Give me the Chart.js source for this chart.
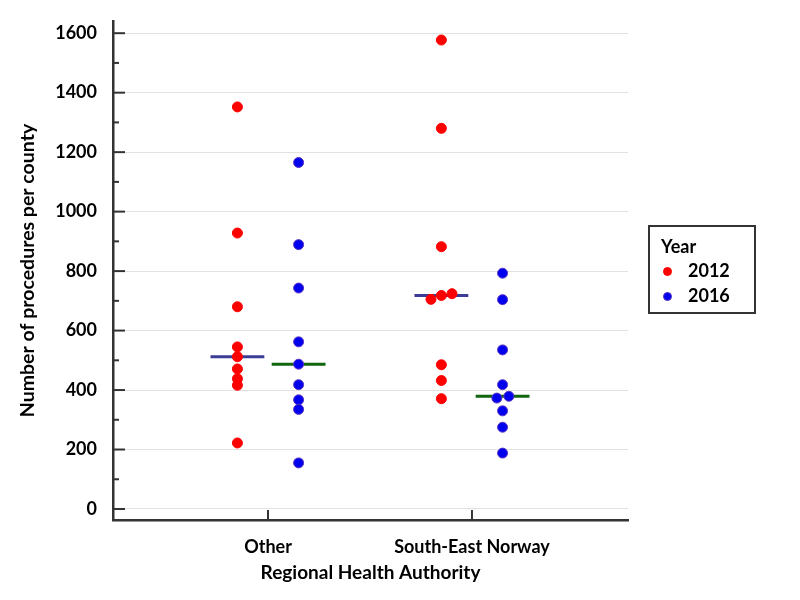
<!DOCTYPE html>
<html>
<head>
<meta charset="utf-8">
<script src="https://cdn.jsdelivr.net/npm/chart.js@4.4.1/dist/chart.umd.min.js"></script>
<style>
  html, body { margin: 0; padding: 0; background: #fff; }
  #wrap { position: relative; width: 800px; height: 600px; }
  #legend {
    position: absolute; left: 648px; top: 225px; width: 108px; height: 89px;
    box-sizing: border-box; border: 2px solid #333; padding-top: 7px;
    font-family: Lato, sans-serif; font-weight: 700; font-size: 18px; color: #000;
  }
  #legend .title { padding-left: 11px; line-height: 24px; }
  #legend .row { display: flex; align-items: center; height: 25px; line-height: 25px; }
  #legend .dot {
    display: inline-block; width: 9px; height: 9px; border-radius: 50%;
    margin-left: 13px; margin-right: 16px; position: relative; top: 1px;
    box-sizing: border-box;
  }
</style>
</head>
<body>
<div id="wrap">
  <canvas id="chart" width="800" height="600"></canvas>
  <div id="legend"></div>
</div>
<script>
// ──────────────────────────────────────────────────────────────
// Data
// ──────────────────────────────────────────────────────────────
const categories = ["Other", "South-East Norway"];
const years = ["2012", "2016"];

const other2012 = [1352, 928, 680, 545, 512, 471, 438, 416, 222];
const other2016 = [1165, 889, 743, 562, 487, 418, 367, 335, 155];
const seNorway2012 = [1577, 1280, 882, 724, 718, 705, 485, 432, 371];
const seNorway2016 = [793, 704, 535, 418, 379, 373, 330, 275, 188];

// sideways spread of overlapping dots, in category units
const other2012Jitter = [0, 0, 0, 0, 0, 0, 0, 0, 0];
const other2016Jitter = [0, 0, 0, 0, 0, 0, 0, 0, 0];
const seNorway2012Jitter = [0, 0, 0, 0.052, 0, -0.051, 0, 0, 0];
const seNorway2016Jitter = [0, 0, 0, 0, 0.031, -0.028, 0, 0, 0];

const yTickLabels = [0, 200, 400, 600, 800, 1000, 1200, 1400, 1600];
const yMinorStep = 100;

// ──────────────────────────────────────────────────────────────
// Styling
// ──────────────────────────────────────────────────────────────
const FONT = { family: "Lato, sans-serif", weight: "bold", size: 18 };
const X_TITLE_FONT = { family: "Lato, sans-serif", weight: "bold", size: 19 };
const Y_TITLE_FONT = { family: "Lato, sans-serif", weight: "bold", size: 19.5 };
const AXIS_COLOR = "#333333";
const GRID_COLOR = "#e2e2e2";
const POINT_COLORS = { "2012": "#ff0000", "2016": "#0000ee" };
const POINT_BORDERS = { "2012": "#ff0000", "2016": "#5b32c2" };
const MEDIAN_COLORS = { "2012": "#3c3c94", "2016": "#0f660f" };
const GROUP_OFFSET = { "2012": -0.15, "2016": 0.15 };
const MEDIAN_HALF = 0.132;

const seriesByYear = {
  "2012": [other2012, seNorway2012],
  "2016": [other2016, seNorway2016],
};
const jitterByYear = {
  "2012": [other2012Jitter, seNorway2012Jitter],
  "2016": [other2016Jitter, seNorway2016Jitter],
};

function median(arr) {
  const s = [...arr].sort((a, b) => a - b);
  const m = Math.floor(s.length / 2);
  return s.length % 2 ? s[m] : (s[m - 1] + s[m]) / 2;
}

function pointDataset(year) {
  const data = [];
  seriesByYear[year].forEach((vals, ci) => {
    vals.forEach((v, k) => {
      data.push({ x: ci + 1 + GROUP_OFFSET[year] + jitterByYear[year][ci][k], y: v });
    });
  });
  return {
    label: year,
    data,
    backgroundColor: POINT_COLORS[year],
    borderColor: POINT_BORDERS[year],
    borderWidth: 1,
    pointRadius: 5,
    pointHoverRadius: 5,
    order: 1,
  };
}

function medianDataset(year) {
  const data = [];
  seriesByYear[year].forEach((vals, ci) => {
    const c = ci + 1 + GROUP_OFFSET[year];
    const m = median(vals);
    if (ci > 0) data.push({ x: c - 0.5, y: null });
    data.push({ x: c - MEDIAN_HALF, y: m }, { x: c + MEDIAN_HALF, y: m });
  });
  return {
    type: "line",
    label: "median " + year,
    isMedian: true,
    data,
    borderColor: MEDIAN_COLORS[year],
    borderWidth: 3,
    pointRadius: 0,
    spanGaps: false,
    order: 2,
  };
}

// ──────────────────────────────────────────────────────────────
// Plugins: inward tick marks and an HTML legend box
// ──────────────────────────────────────────────────────────────
const innerTicks = {
  id: "innerTicks",
  afterDraw(chart) {
    const { ctx, chartArea, scales } = chart;
    ctx.save();
    ctx.strokeStyle = AXIS_COLOR;
    ctx.lineWidth = 2;
    for (let v = 0; v <= 1600; v += yMinorStep) {
      const y = scales.y.getPixelForValue(v);
      const len = v % 200 === 0 ? 12 : 6;
      ctx.beginPath();
      ctx.moveTo(chartArea.left, y);
      ctx.lineTo(chartArea.left + len, y);
      ctx.stroke();
    }
    categories.forEach((_, i) => {
      const x = scales.x.getPixelForValue(i + 1);
      ctx.beginPath();
      ctx.moveTo(x, chartArea.bottom);
      ctx.lineTo(x, chartArea.bottom - 10);
      ctx.stroke();
    });
    ctx.restore();
  },
};

const htmlLegend = {
  id: "htmlLegend",
  afterUpdate(chart) {
    const box = document.getElementById("legend");
    box.innerHTML = "";
    const title = document.createElement("div");
    title.className = "title";
    title.textContent = "Year";
    box.appendChild(title);
    const items = chart.options.plugins.legend.labels.generateLabels(chart)
      .filter((it) => !chart.data.datasets[it.datasetIndex].isMedian);
    for (const it of items) {
      const row = document.createElement("div");
      row.className = "row";
      const dot = document.createElement("span");
      dot.className = "dot";
      dot.style.background = it.fillStyle;
      dot.style.border = "1px solid " + it.strokeStyle;
      const txt = document.createElement("span");
      txt.textContent = it.text;
      row.appendChild(dot);
      row.appendChild(txt);
      box.appendChild(row);
    }
  },
};

// ──────────────────────────────────────────────────────────────
// Chart
// ──────────────────────────────────────────────────────────────
function render() {
  new Chart(document.getElementById("chart"), {
    type: "scatter",
    data: {
      datasets: [
        ...years.map(pointDataset),
        ...years.map(medianDataset),
      ],
    },
    options: {
      responsive: false,
      animation: false,
      layout: { padding: { left: 0, top: 21, right: 172, bottom: 0 } },
      plugins: {
        legend: { display: false },
        tooltip: { enabled: false },
      },
      scales: {
        x: {
          type: "linear",
          min: 0.24,
          max: 2.765,
          afterBuildTicks: (s) => { s.ticks = categories.map((_, i) => ({ value: i + 1 })); },
          afterFit: (s) => { s.height = 80; s.paddingLeft = 0; s.paddingRight = 0; },
          grid: { display: false },
          border: { display: true, color: AXIS_COLOR, width: 2.5 },
          ticks: {
            callback: (v) => categories[v - 1],
            font: FONT, color: "#000", padding: 8,
            autoSkip: false, maxRotation: 0,
          },
          title: {
            display: true, text: "Regional Health Authority",
            font: X_TITLE_FONT, color: "#000", padding: { top: 0, bottom: 16 },
          },
        },
        y: {
          min: -37,
          max: 1641,
          afterBuildTicks: (s) => {
            const t = [];
            for (let v = 0; v <= 1600; v += yMinorStep) t.push({ value: v });
            s.ticks = t;
          },
          afterFit: (s) => { s.width = 113; s.paddingTop = 0; s.paddingBottom = 0; },
          grid: {
            color: (c) => (c.tick && yTickLabels.includes(c.tick.value) ? GRID_COLOR : "rgba(0,0,0,0)"),
            lineWidth: 1,
            drawTicks: false,
          },
          border: { display: true, color: AXIS_COLOR, width: 2.5 },
          ticks: {
            callback: (v) => (yTickLabels.includes(v) ? String(v) : ""),
            font: FONT, color: "#000", padding: 16,
          },
          title: {
            display: true, text: "Number of procedures per county",
            font: Y_TITLE_FONT, color: "#000", padding: { top: 16, bottom: 0 },
          },
        },
      },
    },
    plugins: [innerTicks, htmlLegend],
  });
}

if (document.fonts && document.fonts.load) {
  Promise.all([
    document.fonts.load("bold 18px Lato"),
    document.fonts.load("18px Lato"),
  ]).then(render, render);
} else {
  render();
}
</script>
</body>
</html>
